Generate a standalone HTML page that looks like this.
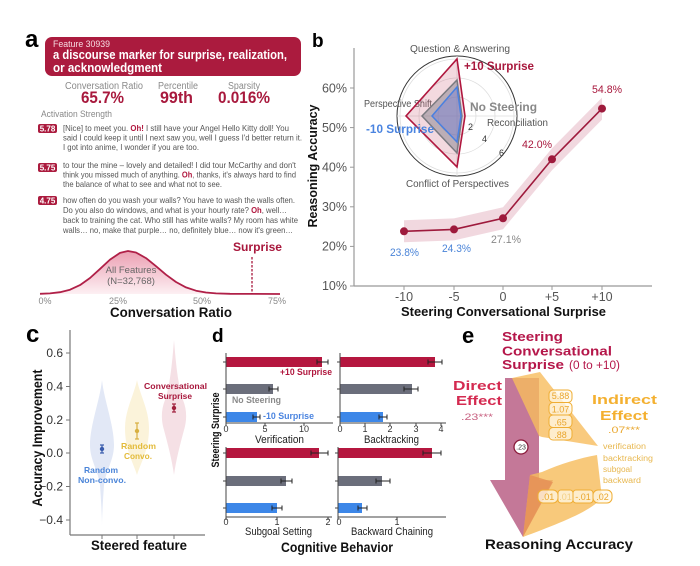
<!DOCTYPE html>
<html><head><meta charset="utf-8"><style>
html,body{margin:0;padding:0;background:#fff;}
svg{display:block;}
text{font-family:"Liberation Sans",sans-serif;}
</style></head><body>
<svg width="700" height="566" viewBox="0 0 700 566" xmlns="http://www.w3.org/2000/svg">
<defs>
<linearGradient id="dg" x1="0" y1="0" x2="0" y2="1">
<stop offset="0" stop-color="#eb9fb2"/><stop offset="1" stop-color="#fdf0f3"/>
</linearGradient>
</defs>
<rect width="700" height="566" fill="#fff"/>

<!-- ========== Panel a ========== -->
<text x="25" y="47" font-size="24" font-weight="bold">a</text>
<rect x="45" y="37" width="256" height="39" rx="7" fill="#ab1b3e"/>
<text x="53" y="47" font-size="9.5" fill="#f6dce2" textLength="57" lengthAdjust="spacingAndGlyphs">Feature 30939</text>
<text x="53" y="59" font-size="13" font-weight="bold" fill="#fff" textLength="234" lengthAdjust="spacingAndGlyphs">a discourse marker for surprise, realization,</text>
<text x="53" y="72" font-size="13" font-weight="bold" fill="#fff" textLength="109" lengthAdjust="spacingAndGlyphs">or acknowledgment</text>

<text x="65" y="89" font-size="10" fill="#8a8a8a" textLength="78" lengthAdjust="spacingAndGlyphs">Conversation Ratio</text>
<text x="158" y="89" font-size="10" fill="#8a8a8a" textLength="40" lengthAdjust="spacingAndGlyphs">Percentile</text>
<text x="228" y="89" font-size="10" fill="#8a8a8a" textLength="32" lengthAdjust="spacingAndGlyphs">Sparsity</text>
<text x="81" y="103" font-size="17" font-weight="bold" fill="#a8193d" textLength="43" lengthAdjust="spacingAndGlyphs">65.7%</text>
<text x="160" y="103" font-size="17" font-weight="bold" fill="#a8193d" textLength="33" lengthAdjust="spacingAndGlyphs">99th</text>
<text x="218" y="103" font-size="17" font-weight="bold" fill="#a8193d" textLength="52" lengthAdjust="spacingAndGlyphs">0.016%</text>

<text x="41" y="117" font-size="9" fill="#888" textLength="71" lengthAdjust="spacingAndGlyphs">Activation Strength</text>

<g font-size="8.5" fill="#555">
<rect x="38" y="124" width="19" height="9" rx="2" fill="#ab1b3e"/>
<text x="47.5" y="131.5" font-size="8" font-weight="bold" fill="#fff" text-anchor="middle">5.78</text>
<text x="63" y="131" textLength="226" lengthAdjust="spacingAndGlyphs">[Nice] to meet you. <tspan fill="#b0173e" font-weight="bold">Oh!</tspan> I still have your Angel Hello Kitty doll! You</text>
<text x="63" y="140.5" textLength="239" lengthAdjust="spacingAndGlyphs">said I could keep it until I next saw you, well I guess I'd better return it.</text>
<text x="63" y="150" textLength="136" lengthAdjust="spacingAndGlyphs">I got into anime, I wonder if you are too.</text>

<rect x="38" y="163" width="19" height="9" rx="2" fill="#ab1b3e"/>
<text x="47.5" y="170.5" font-size="8" font-weight="bold" fill="#fff" text-anchor="middle">5.75</text>
<text x="63" y="168" textLength="233" lengthAdjust="spacingAndGlyphs">to tour the mine – lovely and detailed! I did tour McCarthy and don't</text>
<text x="63" y="177.5" textLength="233" lengthAdjust="spacingAndGlyphs">think you missed much of anything. <tspan fill="#b0173e" font-weight="bold">Oh</tspan>, thanks, it's always hard to find</text>
<text x="63" y="187" textLength="159" lengthAdjust="spacingAndGlyphs">the balance of what to see and what not to see.</text>

<rect x="38" y="196" width="19" height="9" rx="2" fill="#ab1b3e"/>
<text x="47.5" y="203.5" font-size="8" font-weight="bold" fill="#fff" text-anchor="middle">4.75</text>
<text x="63" y="203" textLength="232" lengthAdjust="spacingAndGlyphs">how often do you wash your walls? You have to wash the walls often.</text>
<text x="63" y="213" textLength="224" lengthAdjust="spacingAndGlyphs">Do you also do windows, and what is your hourly rate? <tspan fill="#b0173e" font-weight="bold">Oh</tspan>, well…</text>
<text x="63" y="223" textLength="235" lengthAdjust="spacingAndGlyphs">back to training the cat. Who still has white walls? My room has white</text>
<text x="63" y="233" textLength="230" lengthAdjust="spacingAndGlyphs">walls… no, make that purple… no, definitely blue… now it's green…</text>
</g>

<!-- distribution -->
<path d="M40,293.8 L50,293.4 L60,292.2 L70,289.7 L80,285.1 L90,278 L100,268.9 L110,259.6 L120,252.9 L128,251 L136,252.5 L146,258.1 L156,266.2 L166,274.7 L176,282 L186,287.4 L196,290.7 L206,292.5 L216,293.4 L230,293.8 L280,294 L40,294 Z" fill="url(#dg)"/>
<polyline points="40,293.8 50,293.4 60,292.2 70,289.7 80,285.1 90,278 100,268.9 110,259.6 120,252.9 128,251 136,252.5 146,258.1 156,266.2 166,274.7 176,282 186,287.4 196,290.7 206,292.5 216,293.4 230,293.8 280,294" fill="none" stroke="#b02048" stroke-width="1.8" stroke-linejoin="round"/>
<line x1="252" y1="257" x2="252" y2="294" stroke="#a8173c" stroke-width="1.3" stroke-dasharray="2.5,1.5"/>
<text x="233" y="251" font-size="12" font-weight="bold" fill="#a8173c" textLength="49" lengthAdjust="spacingAndGlyphs">Surprise</text>
<text x="131" y="273" font-size="9.5" fill="#666" text-anchor="middle">All Features</text>
<text x="131" y="284" font-size="9.5" fill="#666" text-anchor="middle">(N=32,768)</text>
<g font-size="9" fill="#888" text-anchor="middle">
<text x="45" y="304">0%</text><text x="118" y="304">25%</text><text x="202" y="304">50%</text><text x="277" y="304">75%</text>
</g>
<text x="110" y="317" font-size="13.5" font-weight="bold" fill="#111" textLength="122" lengthAdjust="spacingAndGlyphs">Conversation Ratio</text>

<!-- ========== Panel b ========== -->
<text x="312" y="47" font-size="19" font-weight="bold">b</text>
<line x1="354" y1="48" x2="354" y2="286" stroke="#999" stroke-width="1.2"/>
<line x1="354" y1="286" x2="652" y2="286" stroke="#999" stroke-width="1.2"/>
<g stroke="#999" stroke-width="1">
<line x1="350" y1="88" x2="354" y2="88"/><line x1="350" y1="127.6" x2="354" y2="127.6"/><line x1="350" y1="167.2" x2="354" y2="167.2"/><line x1="350" y1="206.8" x2="354" y2="206.8"/><line x1="350" y1="246.4" x2="354" y2="246.4"/><line x1="350" y1="286" x2="354" y2="286"/>
<line x1="404" y1="286" x2="404" y2="290"/><line x1="454" y1="286" x2="454" y2="290"/><line x1="503" y1="286" x2="503" y2="290"/><line x1="552" y1="286" x2="552" y2="290"/><line x1="602" y1="286" x2="602" y2="290"/>
</g>
<g font-size="12.5" fill="#555" text-anchor="end">
<text x="347" y="92.5">60%</text><text x="347" y="132">50%</text><text x="347" y="171.5">40%</text><text x="347" y="211">30%</text><text x="347" y="250.5">20%</text><text x="347" y="290">10%</text>
</g>
<g font-size="12.5" fill="#555" text-anchor="middle">
<text x="404" y="301">-10</text><text x="454" y="301">-5</text><text x="503" y="301">0</text><text x="552" y="301">+5</text><text x="602" y="301">+10</text>
</g>
<text x="401" y="316" font-size="13" font-weight="bold" fill="#111" textLength="205" lengthAdjust="spacingAndGlyphs">Steering Conversational Surprise</text>
<text x="317" y="166" font-size="13" font-weight="bold" fill="#111" text-anchor="middle" textLength="123" lengthAdjust="spacingAndGlyphs" transform="rotate(-90 317 166)">Reasoning Accuracy</text>

<polygon points="404,220.3 454,218.4 503,207.3 552,148.3 602,97.6 602,119.6 552,170.3 503,229.3 454,240.4 404,242.3" fill="#b3284f" fill-opacity="0.18"/>
<polyline points="404,231.3 454,229.4 503,218.3 552,159.3 602,108.6" fill="none" stroke="#9e1a3c" stroke-width="1.6"/>
<g fill="#9e1a3c">
<circle cx="404" cy="231.3" r="4"/><circle cx="454" cy="229.4" r="4"/><circle cx="503" cy="218.3" r="4"/><circle cx="552" cy="159.3" r="4"/><circle cx="602" cy="108.6" r="4"/>
</g>
<g font-size="11">
<text x="390" y="256" fill="#4a84d8" textLength="29" lengthAdjust="spacingAndGlyphs">23.8%</text>
<text x="442" y="252" fill="#4a84d8" textLength="29" lengthAdjust="spacingAndGlyphs">24.3%</text>
<text x="491" y="243" fill="#888" textLength="30" lengthAdjust="spacingAndGlyphs">27.1%</text>
<text x="522" y="148" fill="#a8173c" textLength="30" lengthAdjust="spacingAndGlyphs">42.0%</text>
<text x="592" y="93" fill="#a8173c" textLength="30" lengthAdjust="spacingAndGlyphs">54.8%</text>
</g>

<!-- radar -->
<circle cx="457" cy="116" r="60" fill="#fff" stroke="#333" stroke-width="1"/>
<g fill="none" stroke="#ddd" stroke-width="0.8">
<circle cx="457" cy="116" r="19"/><circle cx="457" cy="116" r="38"/><circle cx="457" cy="116" r="57"/>
<line x1="457" y1="56" x2="457" y2="176"/><line x1="397" y1="116" x2="517" y2="116"/>
</g>
<text x="364" y="107" font-size="10" fill="#555" textLength="68" lengthAdjust="spacingAndGlyphs">Perspective Shift</text>
<polygon points="457,59 465,116 457,167 406,116" fill="#c8506e" fill-opacity="0.22" stroke="#b0173e" stroke-width="1.6"/>
<polygon points="457,80 462,116 457,153 422,116" fill="#7a7a86" fill-opacity="0.45" stroke="#7a7a80" stroke-width="1.5"/>
<polygon points="457,87 461,116 457,142 432,116" fill="#6a78d8" fill-opacity="0.4" stroke="#4a80e0" stroke-width="1.5"/>
<g font-size="9" fill="#333">
<text x="468" y="130">2</text><text x="482" y="142">4</text><text x="499" y="156">6</text>
</g>
<text x="410" y="52" font-size="10" fill="#555" textLength="100" lengthAdjust="spacingAndGlyphs">Question &amp; Answering</text>
<text x="487" y="126" font-size="10" fill="#555" textLength="61" lengthAdjust="spacingAndGlyphs">Reconciliation</text>
<text x="406" y="187" font-size="10" fill="#555" textLength="103" lengthAdjust="spacingAndGlyphs">Conflict of Perspectives</text>
<text x="464" y="70" font-size="12" font-weight="bold" fill="#a8173c" textLength="70" lengthAdjust="spacingAndGlyphs">+10 Surprise</text>
<text x="470" y="111" font-size="12" font-weight="bold" fill="#888" textLength="67" lengthAdjust="spacingAndGlyphs">No Steering</text>
<text x="366" y="133" font-size="12" font-weight="bold" fill="#4a84e0" textLength="68" lengthAdjust="spacingAndGlyphs">-10 Surprise</text>

<!-- ========== Panel c ========== -->
<text x="26" y="342" font-size="24" font-weight="bold">c</text>
<path d="M102,380 C104,400 114,425 114,445 C114,460 106,470 104,485 C103,500 102,515 102,527 C102,515 101,500 100,485 C98,470 90,460 90,445 C90,425 100,400 102,380 Z" fill="#e2e8f6"/>
<path d="M137,380 C140,395 149,410 149,428 C149,450 141,462 137,475 C133,462 125,450 125,428 C125,410 134,395 137,380 Z" fill="#fbf3da"/>
<path d="M174,340 C176,365 178,385 183,400 C187,410 187,420 184,430 C180,445 176,460 174,475 C172,460 168,445 164,430 C161,420 161,410 165,400 C170,385 172,365 174,340 Z" fill="#f5e0e5"/>
<line x1="70" y1="330" x2="70" y2="535" stroke="#777" stroke-width="1.2"/>
<line x1="70" y1="535" x2="205" y2="535" stroke="#777" stroke-width="1.2"/>
<g stroke="#777" stroke-width="1">
<line x1="66" y1="353" x2="70" y2="353"/><line x1="66" y1="386.5" x2="70" y2="386.5"/><line x1="66" y1="420" x2="70" y2="420"/><line x1="66" y1="453" x2="70" y2="453"/><line x1="66" y1="486.5" x2="70" y2="486.5"/><line x1="66" y1="520" x2="70" y2="520"/>
<line x1="102" y1="535" x2="102" y2="539"/><line x1="137" y1="535" x2="137" y2="539"/><line x1="174" y1="535" x2="174" y2="539"/>
</g>
<g font-size="12" fill="#333" text-anchor="end">
<text x="63" y="357">0.6</text><text x="63" y="390.5">0.4</text><text x="63" y="424">0.2</text><text x="63" y="457">0.0</text><text x="63" y="490.5">−0.2</text><text x="63" y="524">−0.4</text>
</g>
<g stroke-width="1.2">
<line x1="102" y1="445" x2="102" y2="453" stroke="#3a5cad"/><line x1="100" y1="445" x2="104" y2="445" stroke="#3a5cad"/><line x1="100" y1="453" x2="104" y2="453" stroke="#3a5cad"/>
<line x1="137" y1="423" x2="137" y2="439" stroke="#d8b040"/><line x1="135" y1="423" x2="139" y2="423" stroke="#d8b040"/><line x1="135" y1="439" x2="139" y2="439" stroke="#d8b040"/>
<line x1="174" y1="404" x2="174" y2="412" stroke="#a0203c"/><line x1="172" y1="404" x2="176" y2="404" stroke="#a0203c"/><line x1="172" y1="412" x2="176" y2="412" stroke="#a0203c"/>
</g>
<circle cx="102" cy="449" r="2.2" fill="#3a5cad"/>
<circle cx="137" cy="431" r="2.2" fill="#d8b040"/>
<circle cx="174" cy="408" r="2.2" fill="#a0203c"/>
<g font-size="8.5" font-weight="bold" text-anchor="middle">
<text x="175.5" y="389" fill="#a8173c" textLength="63" lengthAdjust="spacingAndGlyphs">Conversational</text>
<text x="175" y="399" fill="#a8173c" textLength="34" lengthAdjust="spacingAndGlyphs">Surprise</text>
<text x="138.5" y="449" fill="#e3bb3a" textLength="35" lengthAdjust="spacingAndGlyphs">Random</text>
<text x="138" y="459" fill="#e3bb3a" textLength="28" lengthAdjust="spacingAndGlyphs">Convo.</text>
<text x="101" y="473" fill="#4a84d8" textLength="34" lengthAdjust="spacingAndGlyphs">Random</text>
<text x="102" y="483" fill="#4a84d8" textLength="48" lengthAdjust="spacingAndGlyphs">Non-convo.</text>
</g>
<text x="91" y="550" font-size="14" font-weight="bold" fill="#111" textLength="96" lengthAdjust="spacingAndGlyphs">Steered feature</text>
<text x="42" y="438" font-size="14" font-weight="bold" fill="#111" text-anchor="middle" textLength="137" lengthAdjust="spacingAndGlyphs" transform="rotate(-90 42 438)">Accuracy Improvement</text>

<!-- ========== Panel d ========== -->
<text x="212" y="342" font-size="19" font-weight="bold">d</text>
<text x="219" y="430" font-size="11" font-weight="bold" fill="#111" text-anchor="middle" textLength="75" lengthAdjust="spacingAndGlyphs" transform="rotate(-90 219 430)">Steering Surprise</text>
<text x="281" y="552" font-size="14" font-weight="bold" fill="#111" textLength="112" lengthAdjust="spacingAndGlyphs">Cognitive Behavior</text>

<!-- Verification -->
<rect x="226" y="357" width="96" height="10" fill="#b5173f"/>
<rect x="226" y="384" width="47" height="10" fill="#6b6e7b"/>
<rect x="226" y="412" width="31" height="10" fill="#3d87e8"/>
<!-- Backtracking -->
<rect x="340" y="357" width="95" height="10" fill="#b5173f"/>
<rect x="340" y="384" width="72" height="10" fill="#6b6e7b"/>
<rect x="340" y="412" width="43" height="10" fill="#3d87e8"/>
<!-- Subgoal -->
<rect x="226" y="448" width="93" height="10" fill="#b5173f"/>
<rect x="226" y="476" width="60" height="10" fill="#6b6e7b"/>
<rect x="226" y="503" width="51" height="10" fill="#3d87e8"/>
<!-- Backward -->
<rect x="338" y="448" width="94" height="10" fill="#b5173f"/>
<rect x="338" y="476" width="44" height="10" fill="#6b6e7b"/>
<rect x="338" y="503" width="24" height="10" fill="#3d87e8"/>

<g stroke="#222" stroke-width="1">
<line x1="317" y1="362" x2="328" y2="362"/><line x1="317" y1="359.5" x2="317" y2="364.5"/><line x1="328" y1="359.5" x2="328" y2="364.5"/>
<line x1="269" y1="389" x2="278" y2="389"/><line x1="269" y1="386.5" x2="269" y2="391.5"/><line x1="278" y1="386.5" x2="278" y2="391.5"/>
<line x1="253" y1="417" x2="260" y2="417"/><line x1="253" y1="414.5" x2="253" y2="419.5"/><line x1="260" y1="414.5" x2="260" y2="419.5"/>
<line x1="428" y1="362" x2="442" y2="362"/><line x1="428" y1="359.5" x2="428" y2="364.5"/><line x1="442" y1="359.5" x2="442" y2="364.5"/>
<line x1="404" y1="389" x2="418" y2="389"/><line x1="404" y1="386.5" x2="404" y2="391.5"/><line x1="418" y1="386.5" x2="418" y2="391.5"/>
<line x1="379" y1="417" x2="387" y2="417"/><line x1="379" y1="414.5" x2="379" y2="419.5"/><line x1="387" y1="414.5" x2="387" y2="419.5"/>
<line x1="311" y1="453" x2="328" y2="453"/><line x1="311" y1="450.5" x2="311" y2="455.5"/><line x1="328" y1="450.5" x2="328" y2="455.5"/>
<line x1="281" y1="481" x2="292" y2="481"/><line x1="281" y1="478.5" x2="281" y2="483.5"/><line x1="292" y1="478.5" x2="292" y2="483.5"/>
<line x1="272" y1="508" x2="282" y2="508"/><line x1="272" y1="505.5" x2="272" y2="510.5"/><line x1="282" y1="505.5" x2="282" y2="510.5"/>
<line x1="423" y1="453" x2="441" y2="453"/><line x1="423" y1="450.5" x2="423" y2="455.5"/><line x1="441" y1="450.5" x2="441" y2="455.5"/>
<line x1="376" y1="481" x2="390" y2="481"/><line x1="376" y1="478.5" x2="376" y2="483.5"/><line x1="390" y1="478.5" x2="390" y2="483.5"/>
<line x1="358" y1="508" x2="367" y2="508"/><line x1="358" y1="505.5" x2="358" y2="510.5"/><line x1="367" y1="505.5" x2="367" y2="510.5"/>
</g>
<g stroke="#444" stroke-width="1" fill="none">
<polyline points="226,353 226,423 333,423"/>
<polyline points="340,353 340,423 446,423"/>
<polyline points="226,447 226,517 332,517"/>
<polyline points="338,447 338,517 446,517"/>
<line x1="223" y1="362" x2="226" y2="362"/><line x1="223" y1="389" x2="226" y2="389"/><line x1="223" y1="417" x2="226" y2="417"/>
<line x1="337" y1="362" x2="340" y2="362"/><line x1="337" y1="389" x2="340" y2="389"/><line x1="337" y1="417" x2="340" y2="417"/>
<line x1="223" y1="453" x2="226" y2="453"/><line x1="223" y1="481" x2="226" y2="481"/><line x1="223" y1="508" x2="226" y2="508"/>
<line x1="335" y1="453" x2="338" y2="453"/><line x1="335" y1="481" x2="338" y2="481"/><line x1="335" y1="508" x2="338" y2="508"/>
<line x1="226" y1="423" x2="226" y2="426"/><line x1="265" y1="423" x2="265" y2="426"/><line x1="304" y1="423" x2="304" y2="426"/>
<line x1="340" y1="423" x2="340" y2="426"/><line x1="365" y1="423" x2="365" y2="426"/><line x1="390" y1="423" x2="390" y2="426"/><line x1="416" y1="423" x2="416" y2="426"/><line x1="441" y1="423" x2="441" y2="426"/>
<line x1="226" y1="517" x2="226" y2="520"/><line x1="277" y1="517" x2="277" y2="520"/><line x1="328" y1="517" x2="328" y2="520"/>
<line x1="338" y1="517" x2="338" y2="520"/><line x1="397" y1="517" x2="397" y2="520"/>
</g>
<g font-size="9" fill="#333" text-anchor="middle">
<text x="226" y="432">0</text><text x="265" y="432">5</text><text x="304" y="432">10</text>
<text x="340" y="432">0</text><text x="365" y="432">1</text><text x="390" y="432">2</text><text x="416" y="432">3</text><text x="441" y="432">4</text>
<text x="226" y="525">0</text><text x="277" y="525">1</text><text x="328" y="525">2</text>
<text x="339" y="525">0</text><text x="397" y="525">1</text>
</g>
<g font-size="11" fill="#222">
<text x="255" y="443" textLength="49" lengthAdjust="spacingAndGlyphs">Verification</text>
<text x="364" y="443" textLength="55" lengthAdjust="spacingAndGlyphs">Backtracking</text>
<text x="245" y="535" textLength="67" lengthAdjust="spacingAndGlyphs">Subgoal Setting</text>
<text x="351" y="535" textLength="82" lengthAdjust="spacingAndGlyphs">Backward Chaining</text>
</g>
<g font-size="9.5" font-weight="bold">
<text x="280" y="375" fill="#b0173e" textLength="52" lengthAdjust="spacingAndGlyphs">+10 Surprise</text>
<text x="232" y="403" fill="#8a8a8a" textLength="49" lengthAdjust="spacingAndGlyphs">No Steering</text>
<text x="263" y="419" fill="#4a84e0" textLength="51" lengthAdjust="spacingAndGlyphs">-10 Surprise</text>
</g>

<!-- ========== Panel e ========== -->
<text x="462" y="343" font-size="22" font-weight="bold">e</text>
<text x="502" y="341" font-size="13" font-weight="bold" fill="#b5174a" textLength="61" lengthAdjust="spacingAndGlyphs">Steering</text>
<text x="502" y="355.5" font-size="13" font-weight="bold" fill="#b5174a" textLength="110" lengthAdjust="spacingAndGlyphs">Conversational</text>
<text x="502" y="369" font-size="13" font-weight="bold" fill="#b5174a" textLength="62" lengthAdjust="spacingAndGlyphs">Surprise</text>
<text x="569" y="369" font-size="11.5" fill="#b5174a" textLength="51" lengthAdjust="spacingAndGlyphs">(0 to +10)</text>

<text x="453" y="390" font-size="13" font-weight="bold" fill="#d42a50" textLength="49" lengthAdjust="spacingAndGlyphs">Direct</text>
<text x="456" y="405" font-size="13" font-weight="bold" fill="#d42a50" textLength="46" lengthAdjust="spacingAndGlyphs">Effect</text>
<text x="461" y="420" font-size="9" fill="#c86080" textLength="32" lengthAdjust="spacingAndGlyphs">.23***</text>

<!-- direct arrow -->
<polygon points="505,378 539,378 539,480 553,480 523,537 490,480 505,480" fill="#c47898"/>
<!-- indirect bands -->
<polygon points="512,378 540,372 598,446 542,437 539,436" fill="#f7bd5e" fill-opacity="0.8"/>
<path d="M597,455 C580,458 560,464 542,472 L530,475 L523,537 C555,525 590,512 602,498 Z" fill="#f7bd5e" fill-opacity="0.82"/>
<polygon points="530,475 553,482 523,537" fill="#e58f55" fill-opacity="0.8"/>

<!-- number boxes -->
<g fill="#fff8e8" fill-opacity="0.75" stroke="#efad33" stroke-width="1">
<rect x="549" y="390" width="23" height="12.5" rx="4"/>
<rect x="549" y="402.5" width="23" height="12.5" rx="4"/>
<rect x="549" y="415" width="23" height="12.5" rx="4"/>
<rect x="549" y="427.5" width="23" height="12.5" rx="4"/>
<rect x="538" y="490" width="20" height="13" rx="5"/>
<rect x="558" y="490" width="15" height="13" rx="3"/>
<rect x="573" y="490" width="20" height="13" rx="3"/>
<rect x="593" y="490" width="19" height="13" rx="5"/>
</g>
<g font-size="9" fill="#e9a52c" text-anchor="middle">
<text x="560.5" y="399">5.88</text><text x="560.5" y="412.5">1.07</text><text x="560.5" y="425.5">.65</text><text x="560.5" y="438">.88</text>
<text x="548" y="500">.01</text><text x="565.5" y="500" fill="#f3cf85">.01</text><text x="583" y="500">-.01</text><text x="602.5" y="500">.02</text>
</g>
<circle cx="521" cy="447" r="7" fill="#fff" stroke="#8a1a3a" stroke-width="1.3"/>
<text x="521" y="449.5" font-size="7" fill="#333" text-anchor="middle">.23</text>

<text x="592" y="404" font-size="13" font-weight="bold" fill="#f4b030" textLength="65" lengthAdjust="spacingAndGlyphs">Indirect</text>
<text x="600" y="420" font-size="13" font-weight="bold" fill="#f4b030" textLength="48" lengthAdjust="spacingAndGlyphs">Effect</text>
<text x="608" y="433" font-size="9" fill="#eaa830" textLength="32" lengthAdjust="spacingAndGlyphs">.07***</text>
<g font-size="8" fill="#e8b850">
<text x="603" y="449" textLength="43" lengthAdjust="spacingAndGlyphs">verification</text>
<text x="603" y="461" textLength="50" lengthAdjust="spacingAndGlyphs">backtracking</text>
<text x="603" y="472" textLength="29" lengthAdjust="spacingAndGlyphs">subgoal</text>
<text x="603" y="483" textLength="38" lengthAdjust="spacingAndGlyphs">backward</text>
</g>
<text x="485" y="549" font-size="14" font-weight="bold" fill="#111" textLength="148" lengthAdjust="spacingAndGlyphs">Reasoning Accuracy</text>
</svg>
</body></html>
